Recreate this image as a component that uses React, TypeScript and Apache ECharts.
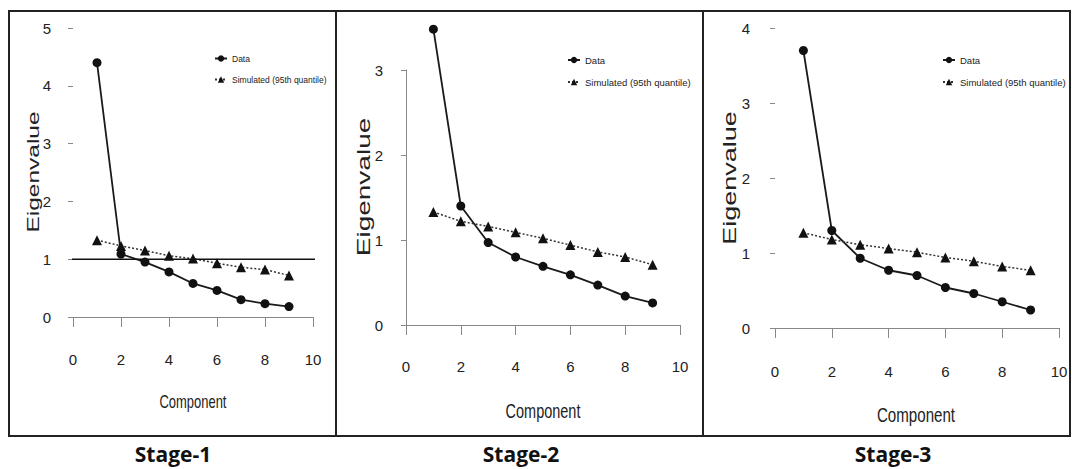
import React, { useEffect, useRef } from "react";
import * as echarts from "echarts";

const components = [1, 2, 3, 4, 5, 6, 7, 8, 9];
const stage1Data = [4.4, 1.09, 0.95, 0.78, 0.58, 0.46, 0.3, 0.23, 0.18];
const stage1Sim = [1.33, 1.23, 1.15, 1.06, 1.01, 0.93, 0.86, 0.82, 0.72];
const stage2Data = [3.48, 1.4, 0.97, 0.8, 0.69, 0.59, 0.47, 0.34, 0.26];
const stage2Sim = [1.33, 1.22, 1.16, 1.09, 1.02, 0.94, 0.86, 0.8, 0.71];
const stage3Data = [3.7, 1.3, 0.93, 0.77, 0.7, 0.54, 0.46, 0.35, 0.24];
const stage3Sim = [1.27, 1.18, 1.11, 1.06, 1.01, 0.94, 0.89, 0.82, 0.77];
const yMaxes = [5, 3, 4];
const stageLabels = ["Stage-1", "Stage-2", "Stage-3"];
const referenceLine = [[-0.45, 1], [10.5, 1]];
const dataName = "Data";
const simName = "Simulated (95th quantile)";
const xTitle = "Component";
const yTitle = "Eigenvalue";

const SANS = "'Liberation Sans', Arial, sans-serif";

export default function App() {
  const ref = useRef<HTMLDivElement>(null);
  useEffect(() => {
    if (!ref.current) return;
    const chart = echarts.init(ref.current, null, { renderer: "svg" });

    const dataSets = [stage1Data, stage2Data, stage3Data];
    const simSets = [stage1Sim, stage2Sim, stage3Sim];

    const grids = [
      { left: 73, top: 28, width: 240, height: 289 },
      { left: 406, top: 70, width: 274, height: 255 },
      { left: 775, top: 28, width: 284, height: 300 },
    ];
    const tickFont = [15, 15, 15];
    const labelMarginX = [20, 19, 22];
    const labelMarginY = [6, 10, 8];
    const yOffset = [16, 13, 17];
    const xOffset = [15, 15, 14];
    const legendPos = [
      { left: 209, top: 49, font: 8.5 },
      { left: 562, top: 50, font: 9.5 },
      { left: 937, top: 50, font: 9.5 },
    ];
    const xTitlePos = [
      { x: 193, y: 402, size: 18, sx: 0.72 },
      { x: 543, y: 411, size: 21, sx: 0.69 },
      { x: 916, y: 415, size: 21, sx: 0.72 },
    ];
    const yTitlePos = [
      { x: 33, y: 172, size: 24.5 },
      { x: 363, y: 187, size: 28 },
      { x: 730, y: 178, size: 27 },
    ];

    const xAxes = grids.map((_, i) => ({
      type: "value",
      gridIndex: i,
      min: 0,
      max: 10,
      interval: 2,
      offset: xOffset[i],
      axisLine: { show: true, lineStyle: { color: "#888", width: 1 } },
      axisTick: { show: true, length: 10, lineStyle: { color: "#888" } },
      axisLabel: { fontFamily: SANS, fontSize: tickFont[i], color: "#222", margin: labelMarginX[i] },
      splitLine: { show: false },
    }));

    const yAxes = grids.map((_, i) => ({
      type: "value",
      gridIndex: i,
      min: 0,
      max: yMaxes[i],
      interval: 1,
      offset: yOffset[i],
      axisLine: { show: i === 1, lineStyle: { color: "#888", width: 1 } },
      axisTick: { show: true, length: 5, lineStyle: { color: "#888" } },
      axisLabel: { fontFamily: SANS, fontSize: tickFont[i], color: "#222", margin: labelMarginY[i] },
      splitLine: { show: false },
    }));

    const series: any[] = [];
    grids.forEach((_, i) => {
      series.push({
        name: dataName,
        type: "line",
        xAxisIndex: i,
        yAxisIndex: i,
        clip: false,
        data: components.map((c, k) => [c, dataSets[i][k]]),
        symbol: "circle",
        symbolSize: 9,
        itemStyle: { color: "#111" },
        lineStyle: { color: "#1a1a1a", width: 1.8 },
      });
      series.push({
        name: simName,
        type: "line",
        xAxisIndex: i,
        yAxisIndex: i,
        clip: false,
        data: components.map((c, k) => [c, simSets[i][k]]),
        symbol: "triangle",
        symbolSize: 10,
        itemStyle: { color: "#111" },
        lineStyle: { color: "#333", width: 1.5, type: [2, 2] },
      });
    });
    series.push({
      name: "Eigenvalue = 1",
      type: "line",
      xAxisIndex: 0,
      yAxisIndex: 0,
      clip: false,
      data: referenceLine,
      symbol: "none",
      lineStyle: { color: "#111", width: 1.5 },
      silent: true,
    });

    const legends = legendPos.map((p) => ({
      data: [dataName, simName],
      orient: "vertical",
      left: p.left,
      top: p.top,
      itemWidth: 12,
      itemHeight: 8,
      itemGap: 12,
      textStyle: { fontFamily: SANS, fontSize: p.font, color: "#222" },
    }));

    const frames = [
      { x: 9, y: 11, w: 327, h: 425, cx: 173 },
      { x: 336, y: 11, w: 367, h: 425, cx: 521 },
      { x: 703, y: 11, w: 367, h: 425, cx: 893 },
    ];
    const graphic: any[] = [];
    frames.forEach((f, i) => {
      graphic.push({
        type: "rect",
        shape: { x: f.x, y: f.y, width: f.w, height: f.h },
        style: { fill: "none", stroke: "#222", lineWidth: 2 },
        silent: true,
      });
      graphic.push({
        type: "text",
        x: f.cx,
        y: 454,
        style: {
          text: stageLabels[i],
          fontFamily: "'Open Sans', 'Noto Sans', sans-serif",
          fontWeight: "bold",
          fontSize: 21,
          fill: "#111",
          align: "center",
          verticalAlign: "middle",
        },
      });
      const xt = xTitlePos[i];
      graphic.push({
        type: "text",
        x: xt.x,
        y: xt.y,
        scaleX: xt.sx,
        style: {
          text: xTitle,
          fontFamily: SANS,
          fontSize: xt.size,
          fill: "#222",
          align: "center",
          verticalAlign: "middle",
        },
      });
      const yt = yTitlePos[i];
      graphic.push({
        type: "text",
        x: yt.x,
        y: yt.y,
        rotation: Math.PI / 2,
        scaleY: 0.68,
        style: {
          text: yTitle,
          fontFamily: SANS,
          fontSize: yt.size,
          fill: "#222",
          align: "center",
          verticalAlign: "middle",
        },
      });
    });

    chart.setOption({
      animation: false,
      backgroundColor: "#fff",
      grid: grids,
      xAxis: xAxes,
      yAxis: yAxes,
      legend: legends,
      series,
      graphic,
    });
    return () => chart.dispose();
  }, []);
  return (
    <div
      ref={ref}
      style={{ position: "absolute", left: 0, top: 0, width: 1072, height: 469 }}
    />
  );
}
